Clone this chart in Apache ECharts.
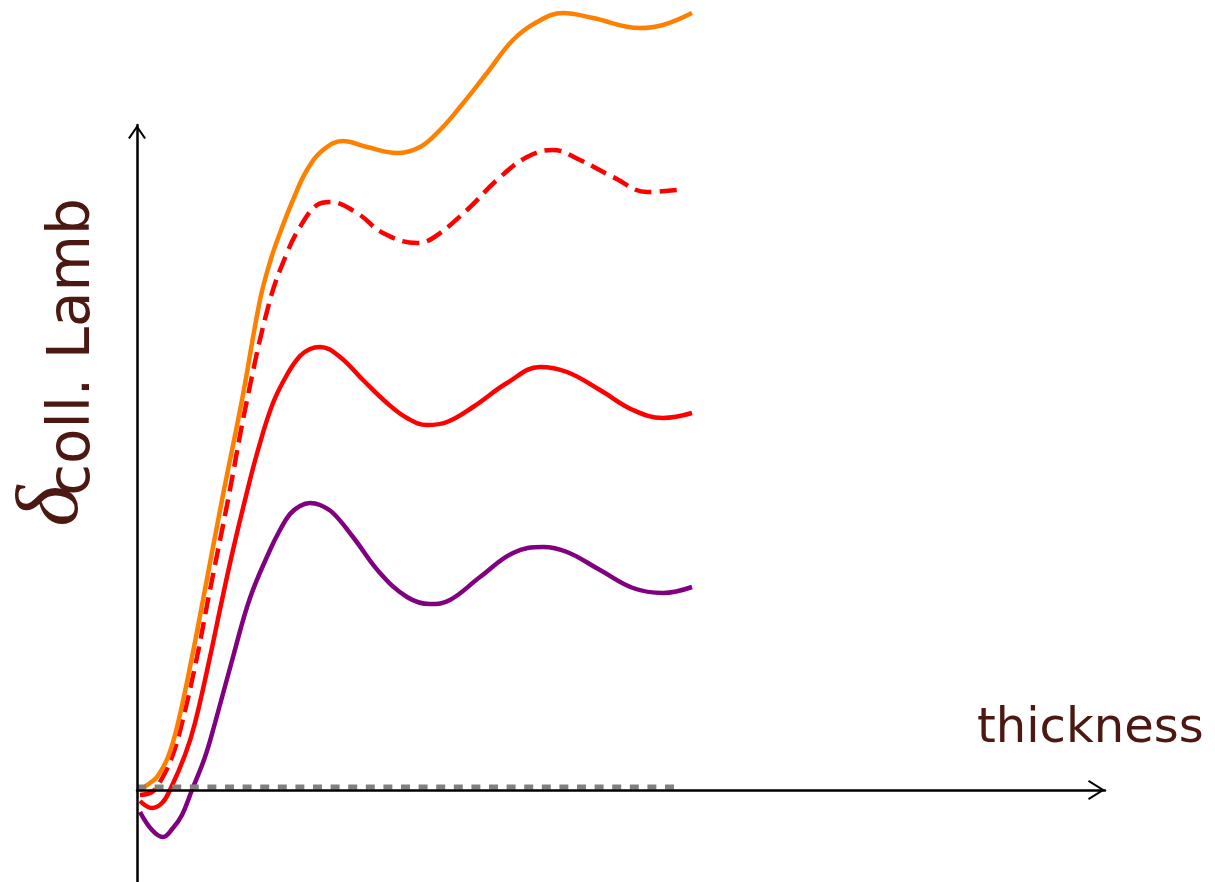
<!DOCTYPE html>
<html>
<head>
<meta charset="utf-8">
<title>δcoll. Lamb vs thickness</title>
<script src="https://cdn.jsdelivr.net/npm/echarts@6/dist/echarts.min.js"></script>
<style>
html, body { margin: 0; padding: 0; background: #fff; }
#chart { width: 1215px; height: 882px; }
</style>
</head>
<body>
<div id="chart"></div>
<script>
// [thickness, delta] pairs, arbitrary units
let orangePts = [
  [0.3, 0.0], [1.3, 0.7], [2.0, 1.3], [3.1, 3.3], [4.1, 6.7], [5.5, 13.3],
  [6.6, 19.0], [8.5, 29.0], [10.5, 39.0], [12.3, 49.0], [13.3, 52.8], [14.3, 55.7],
  [15.6, 59.0], [17.0, 62.0], [18.6, 64.0], [20.6, 64.9], [23.0, 64.3], [26.0, 63.7],
  [28.3, 64.3], [30.3, 66.0], [32.3, 68.3], [35.0, 71.7], [37.6, 75.0], [40.0, 76.8],
  [42.6, 77.7], [45.6, 77.2], [50.3, 76.2], [52.6, 76.5], [55.5, 77.7]
]
let redDashPts = [
  [0.3, -0.5], [1.5, -0.2], [2.3, 0.8], [3.5, 3.3], [4.5, 6.7], [6.0, 13.3],
  [7.1, 19.0], [9.1, 29.0], [11.0, 39.0], [13.3, 49.0], [15.0, 53.7], [16.3, 56.3],
  [18.0, 58.5], [19.3, 58.8], [22.0, 57.7], [24.6, 55.7], [28.0, 54.7], [29.6, 55.2],
  [33.0, 58.0], [36.0, 61.0], [39.0, 63.3], [41.6, 64.0], [44.3, 63.0], [47.6, 61.3],
  [51.0, 59.8], [54.0, 60.0]
]
let redPts = [
  [0.3, -1.1], [1.5, -1.8], [2.5, -1.3], [3.3, 0.0], [4.8, 3.5],
  [5.8, 6.7], [7.3, 13.3], [8.5, 19.0], [9.6, 24.0], [10.8, 29.0], [12.1, 34.0],
  [13.6, 38.7], [15.1, 41.7], [16.3, 43.4], [17.3, 44.1], [18.3, 44.3], [20.3, 43.3],
  [22.6, 41.0], [25.0, 38.7], [27.0, 37.2], [29.0, 36.5], [31.0, 36.8], [33.6, 38.3],
  [37.0, 40.7], [40.3, 42.3], [43.0, 41.8], [46.3, 40.0], [49.6, 38.0], [52.6, 37.2],
  [55.5, 37.7]
]
let purplePts = [
  [0.3, -2.2], [1.5, -4.0], [2.6, -4.7], [3.6, -3.8], [4.5, -2.5], [5.5, 0.0],
  [6.8, 3.3], [7.8, 6.7], [9.6, 13.3], [11.3, 19.2], [13.3, 24.0], [14.3, 26.0],
  [15.3, 27.6], [16.3, 28.4], [17.3, 28.7], [18.3, 28.5], [19.6, 27.7], [21.6, 25.3],
  [24.3, 21.7], [27.0, 19.3], [29.3, 18.6], [31.3, 19.0], [34.3, 21.3], [37.6, 23.7],
  [40.6, 24.3], [43.0, 23.8], [46.3, 22.0], [49.6, 20.2], [52.6, 19.7], [55.5, 20.3]
]
let zeroPts = [[0, 0.3], [54.3, 0.3]]

let textColor = '#4b1911'
// open chevron arrow heads, pointing up before the axis rotates them
let arrowY = 'path://M0,13 L9,0 L18,13 L16.2,14 L9,3.6 L1.8,14 Z'
let arrowX = 'path://M0,16 L10,0 L20,16 L18.2,17 L10,3.7 L1.8,17 Z'

function curve (pts, color, type, z) {
  return {
    type: 'line',
    data: pts,
    smooth: 0.4,
    showSymbol: false,
    clip: false,
    z: z,
    lineStyle: { color: color, width: 4.5, type: type }
  }
}

let chart = echarts.init(document.getElementById('chart'))
chart.setOption({
  animation: false,
  backgroundColor: '#fff',
  grid: { left: 137, right: 110, top: 125, bottom: 0 },
  xAxis: {
    type: 'value',
    min: 0,
    max: 96.8,
    z: 5,
    axisLine: {
      onZero: true,
      symbol: ['none', arrowX],
      symbolSize: [20, 17],
      symbolOffset: [0, -8.5],
      lineStyle: { color: '#000', width: 2.5 }
    },
    axisTick: { show: false },
    axisLabel: { show: false },
    splitLine: { show: false }
  },
  yAxis: {
    type: 'value',
    min: -9.2,
    max: 66.5,
    z: 5,
    axisLine: {
      onZero: true,
      symbol: ['none', arrowY],
      symbolSize: [18, 14],
      symbolOffset: [0, -7],
      lineStyle: { color: '#000', width: 2.5 }
    },
    axisTick: { show: false },
    axisLabel: { show: false },
    splitLine: { show: false }
  },
  series: [
    curve(purplePts, '#800080', 'solid', 2),
    curve(redPts, '#ff0000', 'solid', 2),
    curve(redDashPts, '#ff0000', [17, 8], 2),
    curve(orangePts, '#ff8000', 'solid', 3),
    {
      type: 'line',
      data: zeroPts,
      showSymbol: false,
      z: 4,
      lineStyle: { color: '#808080', width: 5, type: [9, 8.6] }
    }
  ],
  graphic: [
    {
      type: 'text',
      x: 977,
      y: 730,
      style: {
        text: 'thickness',
        font: '48px "DejaVu Sans"',
        fill: textColor,
        align: 'left',
        verticalAlign: 'middle'
      }
    },
    {
      type: 'text',
      x: 54,
      y: 506,
      rotation: Math.PI / 2,
      style: {
        text: 'δ',
        font: 'italic 88px "Liberation Serif"',
        fill: textColor,
        align: 'center',
        verticalAlign: 'middle'
      }
    },
    {
      type: 'text',
      x: 74,
      y: 347,
      rotation: Math.PI / 2,
      style: {
        text: 'coll. Lamb',
        font: '58px "DejaVu Sans"',
        fill: textColor,
        align: 'center',
        verticalAlign: 'middle'
      }
    }
  ]
})
</script>
</body>
</html>
